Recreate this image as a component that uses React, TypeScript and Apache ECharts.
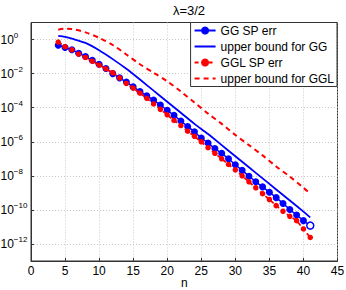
import React, { useEffect, useRef } from "react";
import * as echarts from "echarts";

// n values for the sampled errors
const nErr: number[] = [4,5,6,7,8,9,10,11,12,13,14,15,16,17,18,19,20,21,22,23,24,25,26,27,28,29,30,31,32,33,34,35,36,37,38,39,40,41];
// log10 of GG SP err
const ggErrLog10: number[] = [-0.33,-0.47,-0.6,-0.8,-1.0,-1.22,-1.45,-1.7,-2.0,-2.25,-2.5,-2.78,-3.05,-3.3,-3.55,-3.85,-4.15,-4.45,-4.78,-5.1,-5.42,-5.78,-6.08,-6.4,-6.68,-7.0,-7.35,-7.68,-8.02,-8.35,-8.65,-8.96,-9.28,-9.62,-9.98,-10.3,-10.63,-10.92];
// log10 of GGL SP err
const gglErrLog10: number[] = [-0.15,-0.42,-0.6,-0.85,-1.05,-1.27,-1.5,-1.72,-1.95,-2.25,-2.58,-2.85,-3.15,-3.45,-3.78,-4.1,-4.42,-4.75,-5.05,-5.38,-5.68,-6.0,-6.35,-6.68,-7.0,-7.33,-7.65,-8.0,-8.35,-8.7,-9.05,-9.39,-9.75,-10.08,-10.38,-10.63,-11.12,-11.62];
// n values for the bounds
const nBound: number[] = [4,5,6,8,10,12,14,16,18,20,22,24,26,28,30,32,34,36,38,40,41];
const ggBoundLog10: number[] = [0.21,0.15,0.05,-0.2,-0.63,-1.15,-1.72,-2.35,-3.0,-3.65,-4.3,-4.95,-5.55,-6.2,-6.85,-7.5,-8.15,-8.8,-9.45,-10.1,-10.44];
const gglBoundLog10: number[] = [0.58,0.64,0.62,0.42,0.1,-0.32,-0.88,-1.45,-1.95,-2.45,-3.05,-3.7,-4.35,-4.95,-5.6,-6.2,-6.8,-7.45,-8.05,-8.7,-9.05];

const xTicks: number[] = [0,5,10,15,20,25,30,35,40,45];
const yTickExponents: number[] = [0,-2,-4,-6,-8,-10,-12];
const yMinExp = -13;
const yMaxExp = 1;
const seriesNames: string[] = ["GG SP err","upper bound for GG","GGL SP err","upper bound for GGL"];
const titleText = "λ=3/2";
const xName = "n";

const FONT = "'Liberation Sans', Arial, Helvetica, sans-serif";

export default function App() {
  const ref = useRef<HTMLDivElement>(null);
  useEffect(() => {
    if (!ref.current) return;
    const chart = echarts.init(ref.current, null, { renderer: "svg" });
    const pair = (xs: number[], ys: number[]) => xs.map((x, i) => [x, ys[i]]);
    const ggData: any[] = pair(nErr, ggErrLog10);
    ggData[ggData.length - 1] = { value: ggData[ggData.length - 1], itemStyle: { color: "#ffffff", borderColor: "#0000ff", borderWidth: 1.5 } };
    const noSymbol = { color: "rgba(0,0,0,0)", borderWidth: 0, opacity: 0 };
    chart.setOption({
      animation: false,
      backgroundColor: "#ffffff",
      textStyle: { fontFamily: FONT },
      title: {
        text: titleText,
        left: 184,
        textAlign: "center",
        top: -1,
        textStyle: { fontSize: 13, fontWeight: "normal", color: "#000", fontFamily: FONT },
      },
      grid: {
        left: 31, right: 8.5, top: 22.5, bottom: 29,
        show: true, borderColor: "#333", borderWidth: 1, backgroundColor: "#fff",
        containLabel: false, outerBoundsMode: "none",
      },
      legend: {
        orient: "vertical",
        right: 9,
        top: 22.5,
        data: [
          { name: seriesNames[0] },
          { name: seriesNames[1], itemStyle: noSymbol },
          { name: seriesNames[2] },
          { name: seriesNames[3], itemStyle: noSymbol },
        ],
        backgroundColor: "#fff",
        borderColor: "#333",
        borderWidth: 1,
        borderRadius: 0,
        padding: [2, 3, 2, 3],
        itemWidth: 21,
        itemHeight: 10,
        itemGap: 4,
        itemTextGap: 2,
        textStyle: { fontSize: 12, color: "#000", fontFamily: FONT },
      },
      xAxis: {
        type: "value",
        min: xTicks[0],
        max: xTicks[xTicks.length - 1],
        interval: 5,
        name: xName,
        nameLocation: "middle",
        nameGap: 16,
        nameMoveOverlap: false,
        nameTextStyle: { fontSize: 12, color: "#000", fontFamily: FONT, lineHeight: 12 },
        axisLine: { show: true, onZero: false, lineStyle: { color: "#333", width: 1 } },
        axisTick: { show: true, inside: true, length: 3, lineStyle: { color: "#333" } },
        axisLabel: { fontSize: 12, color: "#000", margin: 4, fontFamily: FONT, showMinLabel: true, showMaxLabel: true },
        splitLine: { show: true, lineStyle: { color: "#c8c8c8", type: [1, 2], width: 1 } },
      },
      yAxis: {
        type: "value",
        min: yMinExp,
        max: yMaxExp,
        interval: 1,
        axisLine: { show: true, onZero: false, lineStyle: { color: "#333", width: 1 } },
        axisTick: { show: true, inside: true, length: 3, customValues: yTickExponents, lineStyle: { color: "#333" } },
        splitLine: { show: true, lineStyle: { color: "#c8c8c8", type: [1, 2], width: 1 } },
        axisLabel: {
          margin: 30.5,
          align: "left",
          customValues: yTickExponents,
          formatter: (v: number) => `{b|10}{s|${v === 0 ? "0" : "−" + Math.abs(v)}}`,
          rich: {
            b: { fontSize: 12, color: "#000", fontFamily: FONT },
            s: { fontSize: 8, color: "#000", fontFamily: FONT, padding: [0, 0, 9, 0] },
          },
        },
      },
      series: [
        {
          type: "line",
          name: seriesNames[0],
          data: ggData,
          z: 3,
          color: "#0000ff",
          symbol: "circle",
          symbolSize: 7,
          lineStyle: { color: "#0000ff", width: 1.5 },
          itemStyle: { color: "#0000ff" },
        },
        {
          type: "line",
          name: seriesNames[1],
          data: pair(nBound, ggBoundLog10),
          z: 3,
          color: "#0000ff",
          symbol: "none",
          smooth: 0.3,
          lineStyle: { color: "#0000ff", width: 1.8 },
        },
        {
          type: "line",
          name: seriesNames[2],
          data: pair(nErr, gglErrLog10),
          z: 4,
          color: "#ff0000",
          symbol: "circle",
          symbolSize: 5.5,
          lineStyle: { color: "#ff0000", width: 1.8, type: [4, 3] },
          itemStyle: { color: "#ff0000" },
        },
        {
          type: "line",
          name: seriesNames[3],
          data: pair(nBound, gglBoundLog10),
          z: 4,
          color: "#ff0000",
          symbol: "none",
          smooth: 0.3,
          lineStyle: { color: "#ff0000", width: 2, type: [5, 4] },
        },
      ],
    });
    return () => chart.dispose();
  }, []);
  return <div ref={ref} style={{ width: 346, height: 290, position: "absolute", left: 0, top: 0 }} />;
}
